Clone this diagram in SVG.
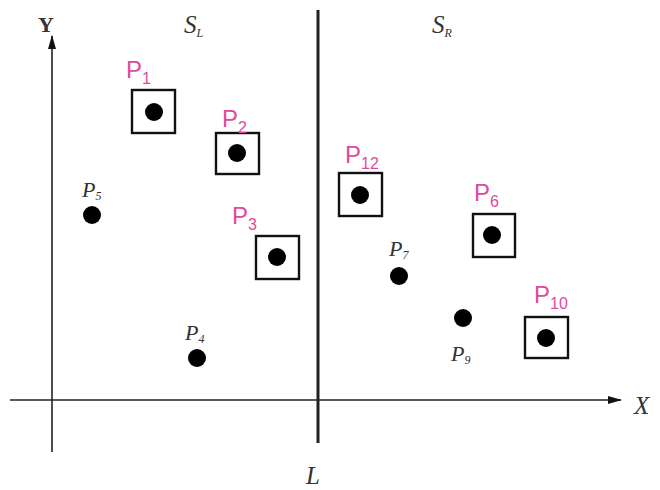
<svg xmlns="http://www.w3.org/2000/svg" width="660" height="490" viewBox="0 0 660 490">
<style>
.ax{stroke:#222;stroke-width:1.6;fill:none}
.box{fill:#fff;stroke:#111;stroke-width:2.4}
.dot{fill:#000}
.pk{font-family:"Liberation Sans",Arial,sans-serif;font-size:24px;fill:#e04a9c}
.pks{font-size:16px}
.gl{font-family:"Liberation Serif","Times New Roman",serif;font-style:italic;font-size:22px;fill:#333}
.gls{font-size:12px}
.big{font-size:25px}
</style>
<defs>
<marker id="arr" markerWidth="14" markerHeight="10" refX="13" refY="5" orient="auto" markerUnits="userSpaceOnUse">
<path d="M0,1 L14,5 L0,9 Z" fill="#111"/>
</marker>
</defs>
<rect width="660" height="490" fill="#fff"/>
<g id="connectors">
<line class="ax" x1="52" y1="452" x2="52" y2="36" marker-end="url(#arr)"/>
<line class="ax" x1="10" y1="400" x2="621" y2="400" marker-end="url(#arr)"/>
<line x1="318" y1="10" x2="318" y2="443" stroke="#222" stroke-width="3"/>
</g>
<g id="axis-labels">
<text x="38" y="32" font-family="Liberation Serif,serif" font-weight="bold" font-size="22" fill="#333">Y</text>
<text x="634" y="414" class="gl big">X</text>
<text x="306" y="484" class="gl big">L</text>
<text x="184" y="33" class="gl big">S<tspan class="gls" dy="4">L</tspan></text>
<text x="432" y="33" class="gl big">S<tspan class="gls" dy="4">R</tspan></text>
</g>
<g id="P1"><rect class="box" x="132" y="90" width="43" height="43"/><circle class="dot" cx="154" cy="112" r="9"/><text class="pk" x="126" y="78">P<tspan class="pks" dy="6">1</tspan></text></g>
<g id="P2"><rect class="box" x="216" y="133" width="43" height="41"/><circle class="dot" cx="237" cy="153" r="9"/><text class="pk" x="222" y="127">P<tspan class="pks" dy="6">2</tspan></text></g>
<g id="P3"><rect class="box" x="256" y="236" width="43" height="43"/><circle class="dot" cx="277" cy="257" r="9"/><text class="pk" x="232" y="224">P<tspan class="pks" dy="6">3</tspan></text></g>
<g id="P12"><rect class="box" x="339" y="173" width="43" height="43"/><circle class="dot" cx="360" cy="195" r="9"/><text class="pk" x="345" y="163">P<tspan class="pks" dy="6">12</tspan></text></g>
<g id="P6"><rect class="box" x="473" y="214" width="42" height="43"/><circle class="dot" cx="492" cy="235" r="9"/><text class="pk" x="474" y="201">P<tspan class="pks" dy="6">6</tspan></text></g>
<g id="P10"><rect class="box" x="525" y="317" width="43" height="41"/><circle class="dot" cx="546" cy="338" r="9"/><text class="pk" x="534" y="303">P<tspan class="pks" dy="6">10</tspan></text></g>
<g id="P5"><circle class="dot" cx="92" cy="215" r="9"/><text class="gl" x="82" y="197">P<tspan class="gls" dy="3">5</tspan></text></g>
<g id="P4"><circle class="dot" cx="197" cy="358" r="9"/><text class="gl" x="185" y="340">P<tspan class="gls" dy="3">4</tspan></text></g>
<g id="P7"><circle class="dot" cx="399" cy="276" r="9"/><text class="gl" x="389" y="256">P<tspan class="gls" dy="3">7</tspan></text></g>
<g id="P9"><circle class="dot" cx="463" cy="318" r="9"/><text class="gl" x="451" y="361">P<tspan class="gls" dy="3">9</tspan></text></g>
</svg>
